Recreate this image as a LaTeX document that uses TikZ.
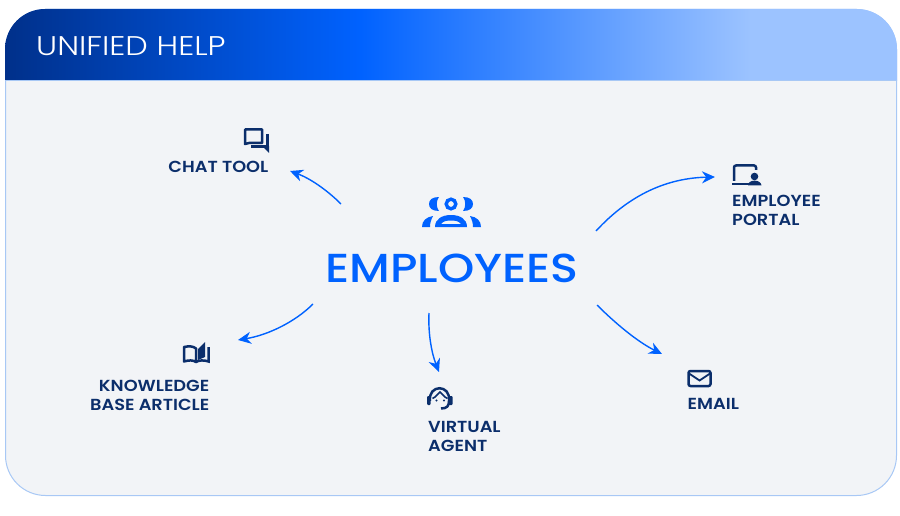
\documentclass[tikz,border=0pt]{standalone}
\usepackage{fontspec}
\setmainfont{Poppins}
\newfontfamily\titlefont[FakeStretch=1.18]{Poppins Light}
\newfontfamily\labelfont[FakeStretch=1.11]{Poppins SemiBold}
\newfontfamily\bigfont[FakeStretch=1.14]{Poppins Medium}
\usetikzlibrary{arrows.meta}
\definecolor{navy}{HTML}{0B2E6B}
\definecolor{bright}{HTML}{0062FF}
\definecolor{panel}{HTML}{F2F4F7}
\definecolor{rim}{HTML}{A8C8F5}
\definecolor{hdark}{HTML}{00308A}
\definecolor{hlight}{HTML}{9CC3FF}
\pgfdeclarehorizontalshading{headerfade}{100bp}{color(0bp)=(hdark); color(25bp)=(hdark); color(44.9bp)=(bright); color(66.8bp)=(hlight); color(75bp)=(hlight); color(100bp)=(hlight)}
\tikzset{
    flow/.style={-{Stealth[length=13pt,width=12pt]}, bright, line width=1.4pt},
    label/.style={navy, font=\fontsize{16}{19}\selectfont\labelfont, inner sep=0pt},
    glyph/.style={navy, line width=2.5pt},
    crowd/.style={bright, fill=bright, draw=none}
}

\begin{document}
\begin{tikzpicture}[x=1pt, y=-1pt]
    \useasboundingbox (0,0) rectangle (900,516);

    % Panel
    \draw[rim, fill=panel, line width=1pt, rounded corners=40pt] (5.5,9.5) rectangle (896.5,495.5);

    % Header
    \shade[shading=headerfade] (5,81) [rounded corners=40pt] -- (5,9) -- (897,9) [sharp corners] -- (897,81) -- cycle;
    \draw[rim, line width=1pt] (5,81) -- (897,81);
    \node[white, anchor=base west, inner sep=0pt, font=\fontsize{27}{30}\selectfont\titlefont] (title) at (36,56) {UNIFIED HELP};

    % Centre
    \node[bright, anchor=base, inner sep=0pt, font=\fontsize{40.5}{46}\selectfont\bigfont] (employees) at (452,282) {EMPLOYEES};

    % Crowd icon
    \draw[bright, line width=3.4pt] (451,204) circle[radius=4.8];
    \fill[crowd] (439,197) .. controls (432,197) and (429,200) .. (429,204) .. controls (429,208) and (432,211) .. (439,211) .. controls (436,207) and (436,201) .. (439,197) -- cycle;
    \fill[crowd] (463,197) .. controls (470,197) and (473,200) .. (473,204) .. controls (473,208) and (470,211) .. (463,211) .. controls (466,207) and (466,201) .. (463,197) -- cycle;
    \fill[crowd] (422,227) .. controls (422,221) and (426,217) .. (433,216) .. controls (431,220) and (430,223) .. (430,227) -- cycle;
    \fill[crowd] (481,227) .. controls (481,221) and (477,217) .. (470,216) .. controls (472,220) and (473,223) .. (473,227) -- cycle;
    \fill[crowd, even odd rule] (435,227) .. controls (435,219) and (442,215) .. (451,215) .. controls (460,215) and (467,219) .. (467,227) -- cycle
        (441,224) -- (461,224) .. controls (459,221) and (455,220.5) .. (451,220.5) .. controls (447,220.5) and (443,221) .. (441,224) -- cycle;

    % Chat tool
    \draw[glyph, line join=round] (245,144) -- (245,129.5) -- (262,129.5) -- (262,143) -- (249,143) -- cycle;
    \draw[glyph] (251,146.5) -- (267.5,146.5);
    \draw[glyph] (267.5,134) -- (267.5,149);
    \fill[navy] (262,146) -- (269,146) -- (269,153) -- cycle;
    \node[label, anchor=base east] (chat) at (268.5,173) {CHAT TOOL};

    % Employee portal
    \draw[glyph, rounded corners=2pt] (734,181) -- (734,165.5) -- (756,165.5) -- (756,170);
    \draw[glyph] (732,184) -- (749,184);
    \fill[navy] (754.5,176.5) circle[radius=3.8];
    \fill[navy] (748,185.5) .. controls (748,179) and (761,179) .. (761.5,185.5) -- cycle;
    \node[label, anchor=north west, align=left] (portal) at (732,195) {EMPLOYEE\\PORTAL};

    % Knowledge base
    \draw[glyph, line join=round] (196,362) .. controls (193,360) and (189,360) .. (184,361.5) -- (184,347) .. controls (189,346) and (193,346) .. (196,348.5) -- cycle;
    \draw[glyph] (196,362) .. controls (199,360) and (204,360) .. (208.5,361.5) -- (208.5,347);
    \fill[navy] (198,349) -- (205,342) -- (205,357) -- (198,360) -- cycle;
    \node[label, anchor=north east, align=right] (article) at (209.5,380) {KNOWLEDGE\\BASE ARTICLE};

    % Virtual agent
    \draw[glyph] (430,401) .. controls (428,384) and (451,384) .. (449,401) .. controls (449,406) and (447,408.5) .. (441,408.5);
    \draw[navy, line width=1.6pt] (432.5,398.5) .. controls (436,397) and (438,393.5) .. (440,392) .. controls (442,393.5) and (444,397) .. (447.5,398.5);
    \fill[navy] (436.5,400.5) circle[radius=1.1] (444,400.5) circle[radius=1.1];
    \fill[navy, rounded corners=1pt] (427,396) rectangle (430.5,405);
    \fill[navy, rounded corners=1pt] (449,396) rectangle (452.5,405);
    \node[label, anchor=north west, align=left] (agent) at (428,421) {VIRTUAL\\AGENT};

    % Email
    \draw[glyph, rounded corners=2pt] (688.5,371) rectangle (710.5,386);
    \draw[navy, line width=1.8pt] (689,373.5) -- (699.5,380.5) -- (710,373.5);
    \node[label, anchor=base west] (email) at (687.5,409) {EMAIL};

    % Arrow ends
    \coordinate (chatfrom) at (341,204);
    \coordinate (chatto) at (290,171);
    \coordinate (portalfrom) at (596,231);
    \coordinate (portalto) at (715,177);
    \coordinate (articlefrom) at (313,304);
    \coordinate (articleto) at (238,340);
    \coordinate (agentfrom) at (429,313);
    \coordinate (agentto) at (439,372);
    \coordinate (emailfrom) at (597,305);
    \coordinate (emailto) at (662,354);

    % Arrows
    \draw[flow] (chatfrom) .. controls (326,189) and (309,178) .. (chatto);
    \draw[flow] (portalfrom) .. controls (630,194) and (668,178) .. (portalto);
    \draw[flow] (articlefrom) .. controls (295,322) and (268,335) .. (articleto);
    \draw[flow] (agentfrom) .. controls (428,335) and (432,354) .. (agentto);
    \draw[flow] (emailfrom) .. controls (616,324) and (638,342) .. (emailto);
\end{tikzpicture}
\end{document}
